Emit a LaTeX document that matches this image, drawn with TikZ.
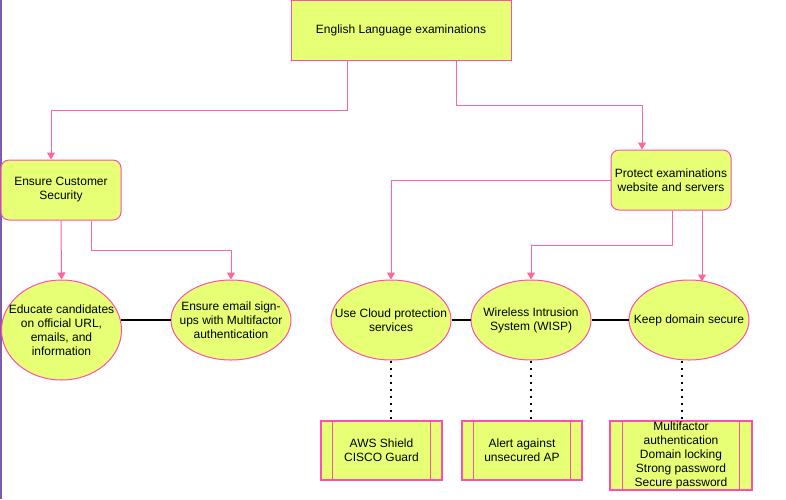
\documentclass[tikz,border=0pt]{standalone}
\usepackage{fontspec}
\setmainfont{Liberation Sans}
\usetikzlibrary{arrows.meta,shapes.geometric}
\definecolor{fillc}{HTML}{E6FF75}
\definecolor{strokec}{HTML}{FF4DB0}
\definecolor{connc}{HTML}{FF6699}
\definecolor{edgec}{HTML}{7B5EA7}
\begin{document}
\begin{tikzpicture}[x=1pt,y=-1pt,
  every node/.style={font=\fontsize{12}{14}\selectfont, align=center, inner sep=0pt},
  sqbox/.style={draw=strokec, fill=fillc, line width=1pt, rectangle},
  rbox/.style={draw=strokec, fill=fillc, line width=1pt, rectangle, rounded corners=8pt},
  oval/.style={draw=strokec, fill=fillc, line width=1pt, ellipse},
  procbox/.style={draw=strokec, fill=fillc, line width=1.2pt, rectangle},
  conn/.style={draw=connc, line width=1pt, -{Triangle[width=8pt,length=7pt]}},
  link/.style={draw=black, line width=2pt},
  dotlink/.style={draw=black, line width=2pt, dash pattern=on 2pt off 5pt}]
\useasboundingbox (0,0) rectangle (786,499);
\fill[white] (0,0) rectangle (786,499);
\draw[edgec, line width=1.5pt] (0.75,0) -- (0.75,499);

% top
\node[sqbox, minimum width=220pt, minimum height=60pt] (top) at (401,30) {English Language examinations};
\node[rbox, minimum width=120pt, minimum height=60pt] (cust) at (61,190) {Ensure Customer\\Security};
\node[rbox, minimum width=120pt, minimum height=60pt] (prot) at (671,180) {Protect examinations\\website and servers};

% ellipses (fixed size shapes, text placed on top)
\node[oval, minimum width=120pt, minimum height=100pt] (edu) at (61.5,330) {};
\node at (edu) {Educate candidates\\on official URL,\\emails, and\\information};
\node[oval, minimum width=120pt, minimum height=80pt] (email) at (231,320) {};
\node at (email) {Ensure email sign-\\ups with Multifactor\\authentication};
\node[oval, minimum width=120pt, minimum height=80pt] (cloud) at (391,320) {};
\node at (cloud) {Use Cloud protection\\services};
\node[oval, minimum width=120pt, minimum height=80pt] (wisp) at (531,320) {};
\node at (wisp) {Wireless Intrusion\\System (WISP)};
\node[oval, minimum width=120pt, minimum height=80pt] (domain) at (689,320) {};
\node at (domain) {Keep domain secure};

% process boxes
\node[procbox, minimum width=121pt, minimum height=59pt] (aws) at (381.5,450.5) {AWS Shield\\CISCO Guard};
\draw[strokec, line width=1.2pt] ([xshift=12pt]aws.north west) -- ([xshift=12pt]aws.south west)
  ([xshift=-12pt]aws.north east) -- ([xshift=-12pt]aws.south east);
\node[procbox, minimum width=120pt, minimum height=59pt] (alert) at (522,450.5) {Alert against\\unsecured AP};
\draw[strokec, line width=1.2pt] ([xshift=12pt]alert.north west) -- ([xshift=12pt]alert.south west)
  ([xshift=-12pt]alert.north east) -- ([xshift=-12pt]alert.south east);
\node[procbox, minimum width=142pt, minimum height=69pt] (multi) at (681,455.5) {Multifactor\\authentication\\Domain locking\\Strong password\\Secure password};
\draw[strokec, line width=1.2pt] ([xshift=13pt]multi.north west) -- ([xshift=13pt]multi.south west)
  ([xshift=-13pt]multi.north east) -- ([xshift=-13pt]multi.south east);

% connectors
\draw[conn] ([xshift=-54pt]top.south) -- ++(0,50) -| ([xshift=-10pt]cust.north);
\draw[conn] ([xshift=55pt]top.south) -- ++(0,45) -| ([xshift=-29pt]prot.north);
\draw[conn] (cust.south) -- (edu.north);
\draw[conn] ([xshift=30pt]cust.south) -- ++(0,30) -| (email.north);
\draw[conn] (prot.west) -| (cloud.north);
\draw[conn] ([xshift=1pt]prot.south) -- ++(0,35) -| (wisp.north);
\draw[conn] ([xshift=31pt]prot.south) -- ++(0,71);

% links
\draw[link] ([xshift=-1pt]edu.east |- email.west) -- (email.west);
\draw[link] (cloud.east) -- (wisp.west);
\draw[link] (wisp.east) -- (domain.west);

% dotted
\draw[dotlink] (cloud.south) -- (cloud.south |- aws.north);
\draw[dotlink] (wisp.south) -- (wisp.south |- alert.north);
\draw[dotlink] ([xshift=-7pt]domain.south) -- ([xshift=-7pt]domain.south |- multi.north);
\end{tikzpicture}
\end{document}
